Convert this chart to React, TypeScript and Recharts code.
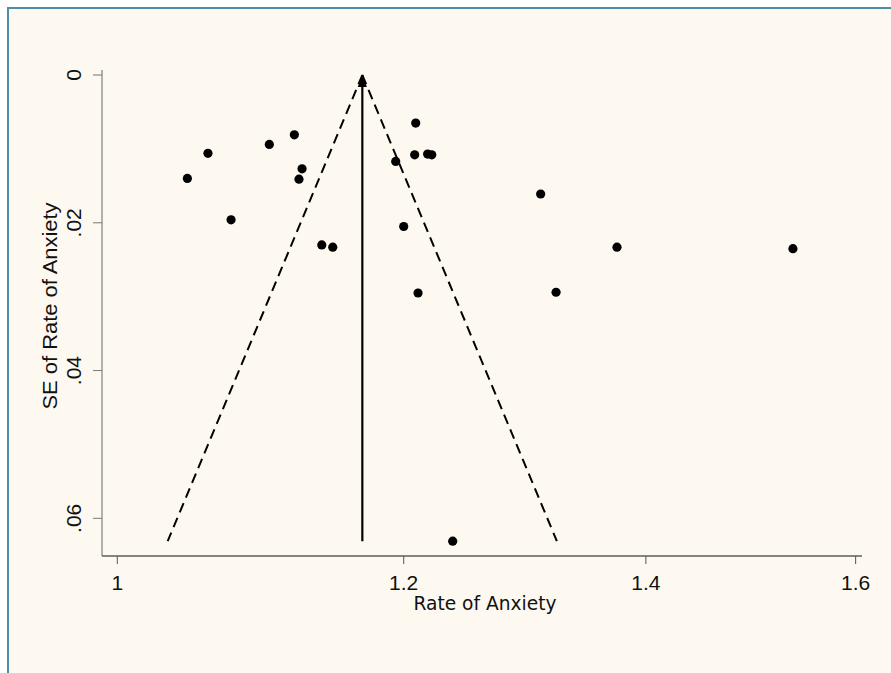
import React from "react";
import { ScatterChart, Scatter, XAxis, YAxis } from "recharts";

// Study estimates (rate of anxiety, exponentiated) and their standard errors
const studyRate = [1.0456, 1.0594, 1.0751, 1.1016, 1.1193, 1.1226, 1.1248, 1.139, 1.147, 1.1939, 1.2, 1.2092, 1.2084, 1.2184, 1.2216, 1.211, 1.3093, 1.3222, 1.3745, 1.5374, 1.238];
const studySE = [0.014, 0.0106, 0.0196, 0.0094, 0.0081, 0.0141, 0.0127, 0.023, 0.0233, 0.0117, 0.0205, 0.0065, 0.0108, 0.0107, 0.0108, 0.0295, 0.0161, 0.0294, 0.0233, 0.0235, 0.0631];

// Pooled estimate line and pseudo 95% confidence limits
const pooledRate = [1.1688, 1.1688];
const funnelSE = [0, 0.0631];
const lowerLimit = [1.1688, 1.0326];
const upperLimit = [1.1688, 1.3229];

const xTicks = [1, 1.2, 1.4, 1.6];
const xTickLabels = ["1", "1.2", "1.4", "1.6"];
const yTicks = [0, 0.02, 0.04, 0.06];
const yTickLabels = ["0", ".02", ".04", ".06"];

const studies = studyRate.map((x, i) => ({ x, y: studySE[i] }));
const pooledLine = pooledRate.map((x, i) => ({ x, y: funnelSE[i] }));
const lowerLine = lowerLimit.map((x, i) => ({ x, y: funnelSE[i] }));
const upperLine = upperLimit.map((x, i) => ({ x, y: funnelSE[i] }));
const arrowTip = [{ x: pooledRate[0], y: funnelSE[0] }];

const FONT = "'Liberation Sans', Arial, sans-serif";

const XTick = (props: any) => {
  const { x, y, payload } = props;
  const idx = xTicks.indexOf(payload.value);
  return (
    <text x={x} y={y + 24} textAnchor="middle" fontFamily={FONT} fontSize={21} fill="#111">
      {idx >= 0 ? xTickLabels[idx] : payload.value}
    </text>
  );
};

const YTick = (props: any) => {
  const { x, y, payload } = props;
  const idx = yTicks.indexOf(payload.value);
  const bx = x - 10;
  return (
    <text x={bx} y={y} transform={`rotate(-90 ${bx} ${y})`} textAnchor="middle" fontFamily={FONT} fontSize={21} fill="#111">
      {idx >= 0 ? yTickLabels[idx] : payload.value}
    </text>
  );
};

const Dot = (props: any) => {
  const { cx, cy } = props;
  if (cx == null || cy == null) return <g />;
  return <circle cx={cx} cy={cy} r={4.6} fill="#000" />;
};

const Arrow = (props: any) => {
  const { cx, cy } = props;
  if (cx == null || cy == null) return <g />;
  return <polygon points={`${cx},${cy - 1} ${cx - 4.5},${cy + 12} ${cx + 4.5},${cy + 12}`} fill="#000" />;
};

const Empty = () => <g />;

export default function App() {
  return (
    <div style={{ position: "absolute", left: 0, top: 0, width: 891, height: 673, background: "#ffffff", overflow: "hidden" }}>
      <div
        style={{
          position: "absolute",
          left: 7,
          top: 7,
          width: 884,
          height: 666,
          borderLeft: "2px solid #4f8da3",
          borderTop: "2px solid #4f8da3",
          background: "#fdf9f1",
        }}
      />
      <div style={{ position: "absolute", left: 0, top: 0 }}>
        <ScatterChart width={891} height={673} margin={{ top: 70, right: 29, left: 0, bottom: 0 }}>
          <XAxis
            dataKey="x"
            type="number"
            scale="log"
            domain={[0.9903, 1.6065]}
            allowDataOverflow
            ticks={xTicks}
            height={117}
            tickSize={8}
            axisLine={{ stroke: "#111", strokeWidth: 1.2 }}
            tickLine={{ stroke: "#555" }}
            tick={<XTick />}
            interval={0}
            label={{
              content: (p: any) => {
                const vb = p.viewBox || {};
                return (
                  <text
                    x={vb.x + vb.width / 2 + 3}
                    y={vb.y + 54}
                    textAnchor="middle"
                    fontFamily="'DejaVu Sans', Verdana, sans-serif"
                    fontSize={19}
                    textLength={143}
                    lengthAdjust="spacingAndGlyphs"
                    fill="#111"
                  >
                    Rate of Anxiety
                  </text>
                );
              },
            }}
          />
          <YAxis
            dataKey="y"
            type="number"
            reversed
            domain={[-0.00068, 0.0651]}
            allowDataOverflow
            ticks={yTicks}
            width={102}
            tickSize={9}
            axisLine={{ stroke: "#666", strokeWidth: 1 }}
            tickLine={{ stroke: "#777" }}
            tick={<YTick />}
            interval={0}
            label={{
              content: (p: any) => {
                const vb = p.viewBox || {};
                const cy = vb.y + vb.height / 2 - 7;
                const bx = 57;
                return (
                  <text
                    x={bx}
                    y={cy}
                    transform={`rotate(-90 ${bx} ${cy})`}
                    textAnchor="middle"
                    fontFamily={FONT}
                    fontSize={20}
                    textLength={207}
                    lengthAdjust="spacingAndGlyphs"
                    fill="#111"
                  >
                    SE of Rate of Anxiety
                  </text>
                );
              },
            }}
          />
          <Scatter data={lowerLine} line={{ stroke: "#000", strokeWidth: 2, strokeDasharray: "10 6" }} lineType="joint" shape={<Empty />} isAnimationActive={false} />
          <Scatter data={upperLine} line={{ stroke: "#000", strokeWidth: 2, strokeDasharray: "10 6" }} lineType="joint" shape={<Empty />} isAnimationActive={false} />
          <Scatter data={pooledLine} line={{ stroke: "#000", strokeWidth: 2.2 }} lineType="joint" shape={<Empty />} isAnimationActive={false} />
          <Scatter data={arrowTip} shape={<Arrow />} isAnimationActive={false} />
          <Scatter data={studies} shape={<Dot />} isAnimationActive={false} />
        </ScatterChart>
      </div>
    </div>
  );
}
